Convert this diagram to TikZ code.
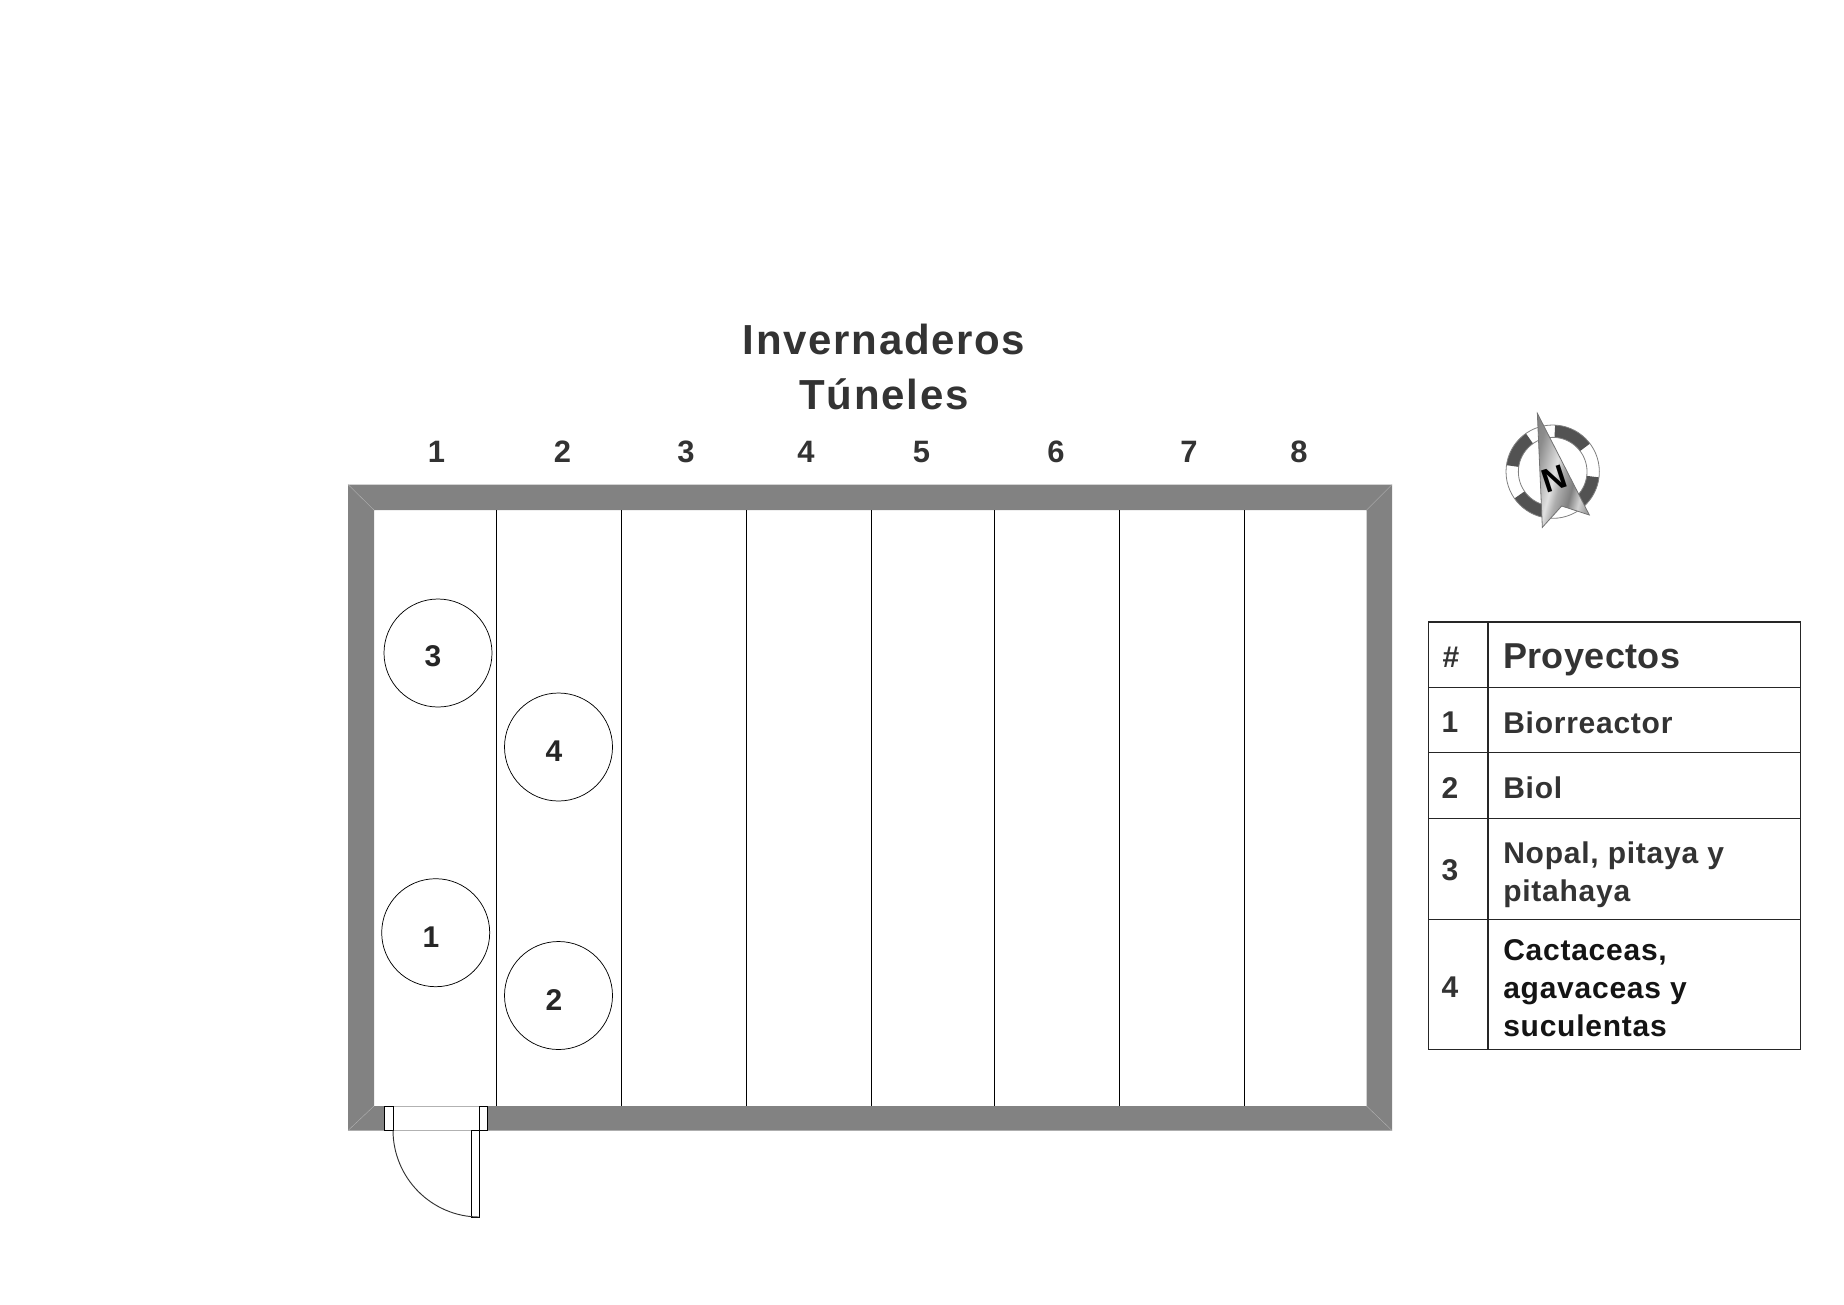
\documentclass[tikz,border=0pt]{standalone}
\usepackage{fontspec}
\setmainfont{Liberation Sans}
\begin{document}
\pgfdeclarehorizontalshading{needleshade}{100bp}{
  color(0bp)=(black!60); color(28bp)=(black!45); color(44bp)=(black!12); color(50bp)=(black!32);
  color(60bp)=(black!50); color(68bp)=(black!18); color(74bp)=(black!35); color(100bp)=(black!62)}
\begin{tikzpicture}[x=0.75pt,y=-0.75pt,
  wallline/.style={draw=black!30,line width=0.3pt},
  thin line/.style={line width=0.65pt,draw=black},
  zone/.style={circle,draw=black,line width=0.55pt,minimum size=81pt,inner sep=0pt},
  coltext/.style={anchor=base,font=\bfseries\fontsize{23.2}{26}\selectfont\addfontfeature{LetterSpace=1},text=black!80},
  titletext/.style={anchor=base,font=\bfseries\fontsize{31.5}{36}\selectfont\addfontfeature{LetterSpace=4},text=black!80},
  headtext/.style={anchor=base west,inner sep=0pt,font=\bfseries\fontsize{27}{30}\selectfont\addfontfeature{LetterSpace=1},text=black!80},
  rowtext/.style={anchor=base west,inner sep=0pt,font=\bfseries\fontsize{22.5}{26}\selectfont\addfontfeature{LetterSpace=2.5},text=black!80},
  darktext/.style={rowtext,text=black!92},
  numtext/.style={anchor=base,inner sep=0pt,font=\bfseries\fontsize{22.5}{26}\selectfont,text=black!80},
  tableline/.style={line width=1pt,draw=black!85}]
\useasboundingbox (0,0) rectangle (1844,1304);
% walls
\fill[fill=black!49,even odd rule] (348,484.5) rectangle (1392,1130.5) (374,510) rectangle (1366.5,1106);
\draw[wallline] (348,484.5) -- (374,510) (1392,484.5) -- (1366.5,510) (348,1130.5) -- (374,1106) (1392,1130.5) -- (1366.5,1106);
% dividers
\foreach \x in {496.3,621.3,746.3,871.3,994.3,1119.5,1244.3}
  \draw[thin line] (\x,510) -- (\x,1106);
% door
\fill[white] (393,1106) rectangle (479,1130);
\draw[black!30,line width=0.6pt] (393,1106) -- (479,1106) (393,1130) -- (479,1130);
\draw[thin line,fill=white] (384.5,1106) rectangle (393,1130);
\draw[thin line,fill=white] (479.5,1106) rectangle (487.5,1130);
\draw[thin line,fill=white] (471.5,1130) rectangle (479.5,1217);
\draw[black!80,line width=0.7pt] (393,1130) arc[start angle=180,end angle=270,x radius=86.5,y radius=-87];
% circles
\node[zone] (z3) at (438,653) {};
\node[zone] (z4) at (558.5,747) {};
\node[zone] (z1) at (435.7,932.7) {};
\node[zone] (z2) at (558.5,995.5) {};
\node[numtext,text=black!85] (l3) at (433,666) {3};
\node[numtext,text=black!85] (l4) at (554,761) {4};
\node[numtext,text=black!85] (l1) at (431,947) {1};
\node[numtext,text=black!85] (l2) at (554,1010) {2};
% title
\node[titletext] (t1) at (884,354) {Invernaderos};
\node[titletext] (t2) at (884,409) {Túneles};
% columns
\node[coltext] (c1) at (436.5,462) {1};
\node[coltext] (c2) at (562.5,462) {2};
\node[coltext] (c3) at (686,462) {3};
\node[coltext] (c4) at (806,462) {4};
\node[coltext] (c5) at (921.5,462) {5};
\node[coltext] (c6) at (1056,462) {6};
\node[coltext] (c7) at (1189,462) {7};
\node[coltext] (c8) at (1299,462) {8};
% table
\draw[tableline] (1428.5,622) rectangle (1800.5,1049.5);
\draw[tableline] (1488,622) -- (1488,1049.5);
\foreach \y in {687.5,752.5,818.5,919.5}
  \draw[tableline] (1428.5,\y) -- (1800.5,\y);
\node[numtext] (h0) at (1451,667) {\#};
\node[headtext] (h1) at (1503,668.5) {Proyectos};
\node[numtext] (n1) at (1450,732) {1};
\node[rowtext] (r1) at (1503,733) {Biorreactor};
\node[numtext] (n2) at (1450,798) {2};
\node[rowtext] (r2) at (1503,798) {Biol};
\node[numtext] (n3) at (1450,880.5) {3};
\node[rowtext] (r3a) at (1503,863) {Nopal, pitaya y};
\node[rowtext] (r3b) at (1503,901) {pitahaya};
\node[numtext] (n4) at (1450,997) {4};
\node[darktext] (r4a) at (1503,960) {Cactaceas,};
\node[darktext] (r4b) at (1503,998) {agavaceas y};
\node[darktext] (r4c) at (1503,1036) {suculentas};
% compass
\begin{scope}[shift={(1480,400)},x=0.25pt,y=-0.25pt]
  \def\rO{140}\def\rI{103}
  \fill[white] (218,215) circle[radius=\rO];
  \foreach \a/\b in {-87/-37,-172/-125,-258/-215,-353/-303}
    \fill[black!68] (218,215) ++(\a:\rO) arc[start angle=\a,end angle=\b,radius=\rO] -- ++(\b+180:\rO-\rI) arc[start angle=\b,end angle=\a,radius=\rI] -- cycle;
  \foreach \r in {\rO,\rI}
    \draw[black!50,line width=0.6pt] (218,215) circle[radius=\r];
  \path[draw=black!55,line width=0.6pt,shade,shading=needleshade,shading angle=-15]
    (172,40) -- (328,345) -- (245,318) -- (187,382) -- cycle;
  \node[rotate=18,font=\bfseries\fontsize{25}{26}\selectfont,text=black,inner sep=0pt,draw=none] (north) at (223,238) {N};
\end{scope}
\end{tikzpicture}
\end{document}
